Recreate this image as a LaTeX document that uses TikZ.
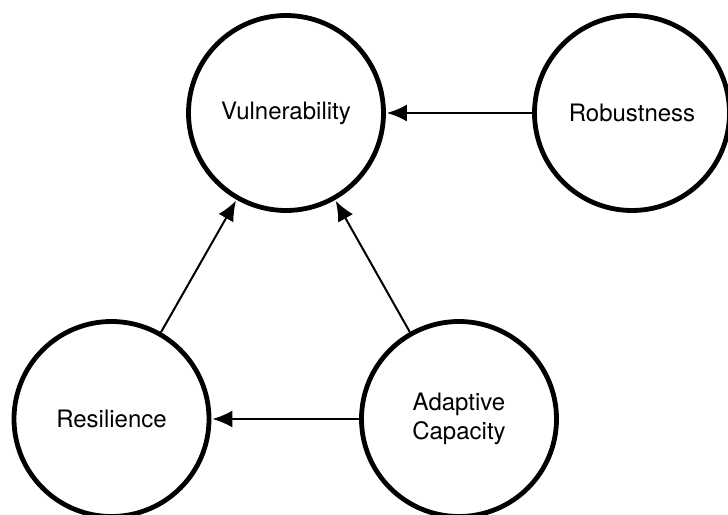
\documentclass[tikz,border=0pt]{standalone}
\usepackage{fontspec}
\setmainfont{TeX Gyre Heros}
\usepackage{tikz}
\usetikzlibrary{positioning,shapes,arrows,arrows.meta}

\tikzset{
  concept/.style={circle, draw, line width=2.4pt, minimum size=97.5pt, inner sep=0pt,
    align=center, font=\fontsize{12}{14.2}\selectfont},
  link/.style={-{Latex[length=10pt,width=8.5pt]}, line width=1pt, shorten >=0.5pt}
}

\begin{document}
\begin{tikzpicture}[x=0.5pt, y=0.5pt]
    \useasboundingbox (0,0) rectangle (728,514);

    % the four concepts
    \node [concept] (vuln)   at (286,401)  {Vulnerability};
    \node [concept] (robust) at (632,401)  {Robustness};
    \node [concept] (resil)  at (111.5,95) {Resilience};
    \node [concept] (adapt)  at (459,95)   {Adaptive\\Capacity};

    % influences
    \foreach \a/\b in {robust/vuln, resil/vuln, adapt/vuln, adapt/resil}
      \draw [link] (\a) -- (\b);
\end{tikzpicture}
\end{document}
